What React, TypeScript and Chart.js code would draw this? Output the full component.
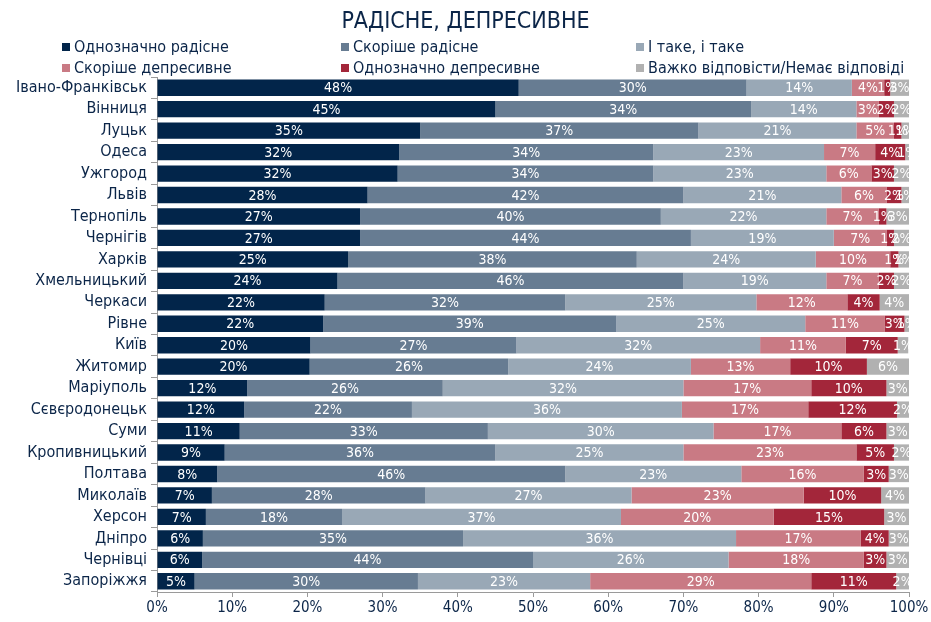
import React, { useEffect, useRef } from "react";
import { Chart, registerables } from "chart.js";

Chart.register(...registerables);

const title = "РАДІСНЕ, ДЕПРЕСИВНЕ";

const cities = [
  "Івано-Франківськ", "Вінниця", "Луцьк", "Одеса", "Ужгород", "Львів", "Тернопіль", "Чернігів",
  "Харків", "Хмельницький", "Черкаси", "Рівне", "Київ", "Житомир", "Маріуполь", "Сєвєродонецьк",
  "Суми", "Кропивницький", "Полтава", "Миколаїв", "Херсон", "Дніпро", "Чернівці", "Запоріжжя",
];

const seriesNames = [
  "Однозначно радісне", "Скоріше радісне", "І таке, і таке",
  "Скоріше депресивне", "Однозначно депресивне", "Важко відповісти/Немає відповіді",
];

const definitelyJoyful = [48.1, 45, 35, 32.2, 32, 28, 27, 27, 25.4, 24, 22.3, 22.1, 20.4, 20.3, 12, 11.6, 11, 9, 8, 7.3, 6.5, 6.1, 6, 5];
const ratherJoyful = [30.3, 34, 37, 33.8, 34, 42, 40, 44, 38.4, 46, 32, 39, 27.4, 26.4, 26, 22.3, 33, 36, 46.3, 28.4, 18.1, 34.6, 44, 29.7];
const neutral = [14, 14, 21, 22.7, 23, 21, 22, 19, 23.8, 19, 25.4, 25.1, 32.4, 24.3, 32, 35.9, 30, 25, 23.4, 27.4, 37.1, 36.3, 26, 22.9];
const ratherDepressing = [4.3, 3, 5, 6.8, 6, 6, 7, 7, 9.9, 7, 12.1, 10.6, 11.4, 13.2, 17, 16.8, 17, 23, 16.3, 22.9, 20.3, 16.6, 18, 29.4];
const definitelyDepressing = [0.8, 2, 1, 4, 3, 2, 1, 1, 1.1, 2, 4.3, 2.6, 6.9, 10.2, 10, 11.8, 6, 5, 3.3, 10.3, 14.7, 3.7, 3, 11.3];
const noAnswer = [2.5, 2, 1, 0.5, 2, 1, 3, 2, 1.4, 2, 3.9, 0.6, 1.4, 5.6, 3, 1.6, 3, 2, 2.7, 3.7, 3.3, 2.7, 3, 1.7];

const xTicks = [0, 10, 20, 30, 40, 50, 60, 70, 80, 90, 100];

const colors = ["#02254a", "#677c92", "#99a8b6", "#c97a84", "#a3263a", "#b1b1b1"];
const NAVY = "#0b2548";
const FONT = "'DejaVu Sans Condensed', 'Liberation Sans Narrow', 'DejaVu Sans', sans-serif";

const labelPlugin = {
  id: "segLabels",
  afterDatasetsDraw(chart: any) {
    const ctx = chart.ctx;
    ctx.save();
    ctx.font = `14px ${FONT}`;
    ctx.fillStyle = "#ffffff";
    ctx.textAlign = "center";
    ctx.textBaseline = "middle";
    chart.data.datasets.forEach((ds: any, i: number) => {
      const meta = chart.getDatasetMeta(i);
      meta.data.forEach((bar: any, j: number) => {
        const v = ds.data[j];
        const p = bar.getProps(["x", "y", "base"], true);
        ctx.fillText(Math.round(v) + "%", (p.x + p.base) / 2, p.y + 1);
      });
    });
    ctx.restore();
  },
};

export default function App() {
  const ref = useRef<HTMLCanvasElement>(null);

  useEffect(() => {
    const series = [definitelyJoyful, ratherJoyful, neutral, ratherDepressing, definitelyDepressing, noAnswer];
    const chart = new Chart(ref.current as HTMLCanvasElement, {
      type: "bar",
      data: {
        labels: cities,
        datasets: series.map((d, i) => ({
          label: seriesNames[i],
          data: d,
          backgroundColor: colors[i],
          borderWidth: 0,
          barPercentage: 0.8,
          categoryPercentage: 0.95,
        })),
      },
      options: {
        indexAxis: "y",
        animation: false,
        responsive: false,
        maintainAspectRatio: false,
        layout: { padding: { top: 77, right: 22, left: 0, bottom: 0 } },
        plugins: { legend: { display: false }, title: { display: false }, tooltip: { enabled: false } },
        scales: {
          x: {
            stacked: true,
            min: 0,
            max: 100,
            afterFit: (s: any) => { s.height = 30; },
            afterBuildTicks: (s: any) => { s.ticks = xTicks.map((v) => ({ value: v })); },
            grid: { display: true, drawOnChartArea: false, drawTicks: true, tickLength: 5, color: "#9a9a9a" },
            border: { display: true, color: "#9a9a9a" },
            ticks: { color: NAVY, font: { family: FONT, size: 15 }, padding: 2, callback: (v: any) => v + "%", maxRotation: 0 },
          },
          y: {
            stacked: true,
            afterFit: (s: any) => { s.width = 157; },
            grid: { display: true, offset: true, drawOnChartArea: false, drawTicks: true, tickLength: 6, color: "#9a9a9a" },
            border: { display: true, color: "#9a9a9a" },
            ticks: { color: NAVY, font: { family: FONT, size: 16 }, padding: 4, autoSkip: false },
          },
        },
      },
      plugins: [labelPlugin],
    });
    return () => chart.destroy();
  }, []);

  const legendPos = [
    [62, 37], [341, 37], [636, 37],
    [62, 58], [341, 58], [636, 58],
  ];

  return (
    <div style={{ position: "absolute", left: 0, top: 0, width: 931, height: 622, background: "#fff", fontFamily: FONT }}>
      <canvas ref={ref} width={931} height={622} style={{ position: "absolute", left: 0, top: 0 }} />
      <div style={{ position: "absolute", left: 0, top: 6, width: 931, textAlign: "center", fontSize: 23, color: NAVY, lineHeight: "28px" }}>
        {title}
      </div>
      {seriesNames.map((n, i) => (
        <div key={n} style={{ position: "absolute", left: legendPos[i][0], top: legendPos[i][1], display: "flex", alignItems: "center", fontSize: 16, color: NAVY, lineHeight: "19px", whiteSpace: "nowrap" }}>
          <span style={{ display: "inline-block", width: 8, height: 8, background: colors[i], marginRight: 4 }} />
          {n}
        </div>
      ))}
    </div>
  );
}
